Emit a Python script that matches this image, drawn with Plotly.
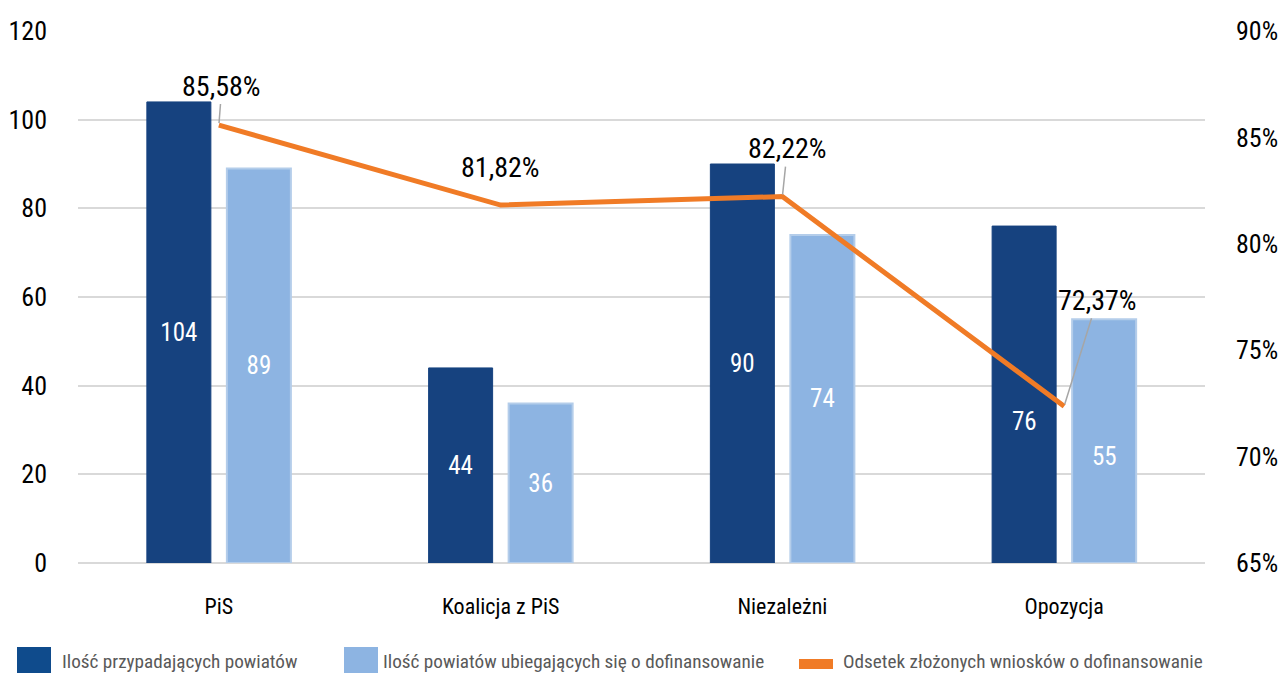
import plotly.graph_objects as go

categories = ["PiS", "Koalicja z PiS", "Niezależni", "Opozycja"]
powiaty = [104, 44, 90, 76]
ubiegajace = [89, 36, 74, 55]
odsetek = [85.58, 81.82, 82.22, 72.37]
odsetek_labels = ["85,58%", "81,82%", "82,22%", "72,37%"]
left_ticks = [0, 20, 40, 60, 80, 100, 120]
right_ticks = [65, 70, 75, 80, 85, 90]
right_tick_labels = ["65%", "70%", "75%", "80%", "85%", "90%"]
series_names = ["Ilość przypadających powiatów",
                "Ilość powiatów ubiegających się o dofinansowanie",
                "Odsetek złożonych wniosków o dofinansowanie"]
colors = ["#16427f", "#8db4e2", "#f07b26"]
legend_colors = ["#0f4b8c", "#8db4e2", "#f07b26"]

# bar labels that were moved down in the original (to avoid the line)
moved_down = {("powiaty", "Opozycja"): 27, ("ubiegajace", "Opozycja"): 15}

FONT = "Roboto Condensed, Liberation Sans Narrow, DejaVu Sans Condensed, Arial Narrow, Roboto, sans-serif"

W, H = 1288, 674
ML, MR, MT, MB = 78, 83, 31, 111
PW, PH = W - ML - MR, H - MT - MB

def bar_texts(key, vals):
    return ["" if (key, c) in moved_down else str(v) for c, v in zip(categories, vals)]

fig = go.Figure()
fig.add_trace(go.Bar(
    x=categories, y=powiaty, name=series_names[0],
    marker=dict(color=colors[0], line=dict(color=colors[0], width=1)),
    text=bar_texts("powiaty", powiaty), textposition="inside", insidetextanchor="middle",
    textfont=dict(color="white", size=25, family=FONT), textangle=0,
))
fig.add_trace(go.Bar(
    x=categories, y=ubiegajace, name=series_names[1],
    marker=dict(color=colors[1], line=dict(color="#b4cdea", width=2)),
    text=bar_texts("ubiegajace", ubiegajace), textposition="inside", insidetextanchor="middle",
    textfont=dict(color="white", size=25, family=FONT), textangle=0,
))
fig.add_trace(go.Scatter(
    x=categories, y=odsetek, name=series_names[2],
    mode="lines", line=dict(color=colors[2], width=5), yaxis="y2",
))

for key, vals, xs in (("powiaty", powiaty, -40), ("ubiegajace", ubiegajace, 40)):
    for c, v in zip(categories, vals):
        if (key, c) in moved_down:
            fig.add_annotation(x=c, y=v / 2, xref="x", yref="y", text=str(v), showarrow=False,
                               xshift=xs, yshift=-moved_down[(key, c)],
                               font=dict(size=25, color="white", family=FONT))

# percentage labels
offsets = [(3, -39, True), (0, -38, False), (5, -48, True), (33, -106, True)]
for cat, val, lab, (ax, ay, arrow) in zip(categories, odsetek, odsetek_labels, offsets):
    if arrow:
        fig.add_annotation(x=cat, y=val, xref="x", yref="y2", text=lab, showarrow=True,
                           ax=ax, ay=ay, arrowhead=0, arrowwidth=1.5, arrowcolor="#a6a6a6",
                           standoff=2, font=dict(size=28, color="black", family=FONT))
    else:
        fig.add_annotation(x=cat, y=val, xref="x", yref="y2", text=lab, showarrow=False,
                           yshift=-ay, font=dict(size=28, color="black", family=FONT))

# custom legend (pixel positions converted to paper coordinates)
def px(x):
    return (x - ML) / PW

def py(y):
    return (H - MB - y) / PH

legend_items = [(17, 60, "square"), (344, 381, "square"), (799, 841, "line")]
for (sx, tx, kind), name, col in zip(legend_items, series_names, legend_colors):
    if kind == "square":
        fig.add_shape(type="rect", xref="paper", yref="paper",
                      x0=px(sx), x1=px(sx + 34), y0=py(673), y1=py(647),
                      fillcolor=col, line=dict(width=0), layer="above")
    else:
        fig.add_shape(type="rect", xref="paper", yref="paper",
                      x0=px(sx), x1=px(sx + 34), y0=py(669), y1=py(659),
                      fillcolor=col, line=dict(width=0), layer="above")
    fig.add_annotation(xref="paper", yref="paper", x=px(tx), y=py(661), text=name,
                       showarrow=False, xanchor="left", yanchor="middle",
                       font=dict(size=19.2, color="#595959", family=FONT))

fig.update_layout(
    width=W, height=H,
    margin=dict(l=ML, r=MR, t=MT, b=MB, autoexpand=False),
    paper_bgcolor="white", plot_bgcolor="white",
    font=dict(family=FONT, color="black"),
    barmode="group", bargap=0.432, bargroupgap=0.2,
    xaxis=dict(showgrid=False, tickfont=dict(size=22, color="black"), ticks="",
               ticklabelstandoff=28, showline=False, automargin=False),
    yaxis=dict(range=[0, 120], tickvals=left_ticks, showgrid=True, gridcolor="#d9d9d9", gridwidth=2,
               zeroline=True, zerolinecolor="#d9d9d9", zerolinewidth=2, automargin=False,
               tickfont=dict(size=26, color="black"), ticklabelstandoff=30, showline=False),
    yaxis2=dict(range=[65, 90], tickvals=right_ticks, ticktext=right_tick_labels, overlaying="y",
                side="right", showgrid=False, zeroline=False, automargin=False,
                tickfont=dict(size=26, color="black"), ticklabelstandoff=30, showline=False),
    showlegend=False,
)

fig.write_html("out.html", config={"displayModeBar": False},
               post_script="document.body.style.margin='0';document.body.style.overflow='hidden';")
